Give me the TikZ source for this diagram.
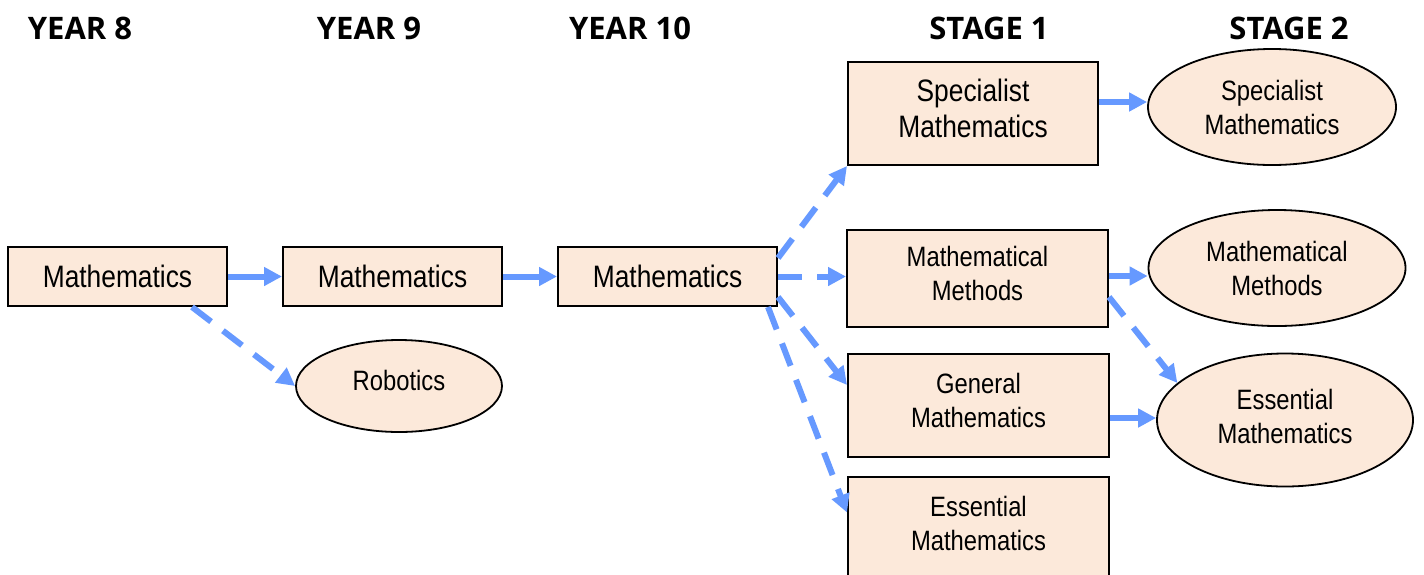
\documentclass[tikz,border=0pt]{standalone}
\usepackage{fontspec}
\setmainfont{Liberation Sans}[FakeStretch=0.85]
\newfontfamily\headfont{Open Sans}
\usetikzlibrary{arrows.meta,shapes.geometric}
\definecolor{peach}{RGB}{252,233,218}
\definecolor{flowblue}{RGB}{102,153,255}
\begin{document}
\begin{tikzpicture}[x=1pt,y=-1pt,
  head/.style={font=\headfont\bfseries\fontsize{31}{36}\selectfont, inner sep=0pt},
  box/.style={draw=black, line width=2pt, fill=peach, rectangle, inner sep=0pt, align=center,
              font=\fontsize{28}{34}\selectfont, text depth=10pt},
  bigbox/.style={box, font=\fontsize{31}{36}\selectfont},
  ell/.style={ellipse, draw=black, line width=1.8pt, fill=peach, inner sep=0pt, align=center,
              font=\fontsize{28}{34}\selectfont},
  flow/.style={line width=6pt, draw=flowblue, -{Triangle[length=18pt,width=18pt]}},
  dashflow/.style={flow, dash pattern=on 24pt off 15pt}]
\useasboundingbox[fill=white] (0,0) rectangle (1424,574);

% headers
\node[head] (h8) at (80,28) {YEAR 8};
\node[head] (h9) at (369,28) {YEAR 9};
\node[head] (h10) at (630,28) {YEAR 10};
\node[head] (hs1) at (989,28) {STAGE 1};
\node[head] (hs2) at (1289,28) {STAGE 2};

% year boxes
\node[bigbox, text depth=0pt, minimum width=219pt, minimum height=59pt] (y8) at (117.5,276.5) {Mathematics};
\node[bigbox, text depth=0pt, minimum width=219pt, minimum height=59pt] (y9) at (392.5,276.5) {Mathematics};
\node[bigbox, text depth=0pt, minimum width=219pt, minimum height=59pt] (y10) at (667.5,276.5) {Mathematics};
\node[ell, text depth=12pt, minimum width=206pt, minimum height=92pt] (rob) at (399,386) {Robotics};

% stage 1 boxes
\node[bigbox, minimum width=250pt, minimum height=103pt] (spec) at (973,113.5) {Specialist\\Mathematics};
\node[box, minimum width=261pt, minimum height=97pt] (mm) at (977.5,278.5) {Mathematical\\Methods};
\node[box, minimum width=261pt, minimum height=103pt] (gm) at (978.5,405.5) {General\\Mathematics};
\node[box, minimum width=261pt, minimum height=103pt] (em) at (978.5,528.5) {Essential\\Mathematics};

% stage 2 ellipses
\node[ell, minimum width=248pt, minimum height=116pt] (spec2) at (1272,107) {Specialist\\Mathematics};
\node[ell, minimum width=257pt, minimum height=116pt] (mm2) at (1277,268) {Mathematical\\Methods};
\node[ell, text depth=8pt, minimum width=256pt, minimum height=133pt] (em2) at (1285,420) {Essential\\Mathematics};

% connectors
\draw[flow] (y8.east) -- (y9.west);
\draw[flow] (y9.east) -- (y10.west);
\draw[dashflow] ([xshift=74.5pt]y8.south) -- (rob.west);

\draw[dashflow] ([yshift=18.5pt]y10.east) -- (spec.south west);
\draw[dashflow] (y10.east) -- (y10.east -| mm.west);
\draw[dashflow] ([yshift=-20.5pt]y10.east) -- ([yshift=20.5pt]gm.west);
\draw[dashflow] ([xshift=100.5pt]y10.south) -- ([yshift=16pt]em.west);

\draw[flow] ([yshift=11.5pt]spec.east) -- ([yshift=5pt]spec2.west);
\draw[flow] ([yshift=2.5pt]mm.east) -- ([yshift=-8pt]mm2.west);
\draw[dashflow] ([yshift=-18.5pt]mm.east) -- (em2.161);
\draw[flow] ([yshift=-12.5pt]gm.east) -- ([yshift=2pt]em2.west);
\end{tikzpicture}
\end{document}
